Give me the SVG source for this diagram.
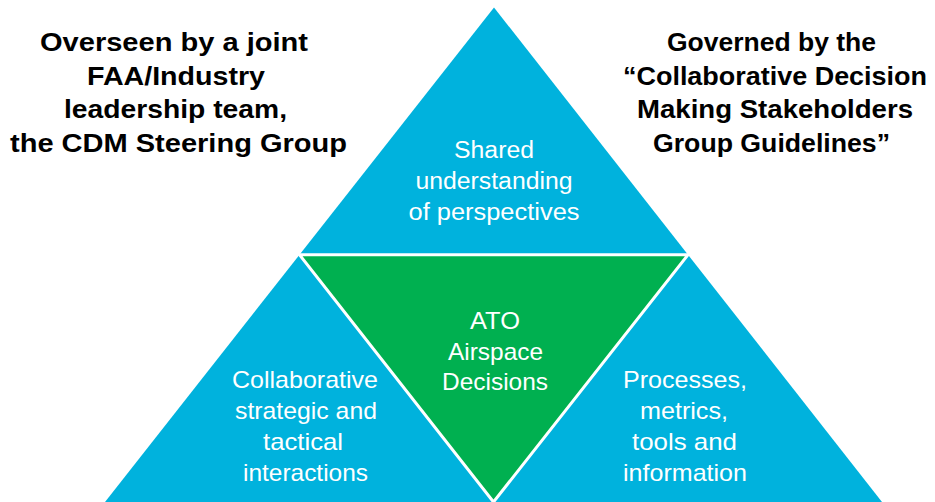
<svg xmlns="http://www.w3.org/2000/svg" width="935" height="502" viewBox="0 0 935 502">
<style>
.blue{fill:#00B2DD;}
.green{fill:#00B050;stroke:#FFFFFF;stroke-width:3;stroke-linejoin:miter;}
.hd{font-family:"Liberation Sans",Arial,sans-serif;font-weight:bold;font-size:25px;fill:#000000;text-anchor:middle;}
.wt{font-family:"Liberation Sans",Arial,sans-serif;font-size:24px;fill:#FFFFFF;text-anchor:middle;}
.wt2{font-family:"Liberation Sans",Arial,sans-serif;font-size:23px;fill:#FFFFFF;text-anchor:middle;}
</style>
<rect width="935" height="502" fill="#FFFFFF"/>
<g id="node-top">
<polygon class="blue" points="494,7.5 299.5,254.75 688,254.75"/>
<text class="wt2" x="494" y="158" textLength="80" lengthAdjust="spacingAndGlyphs">Shared</text>
<text class="wt2" x="494" y="189" textLength="157" lengthAdjust="spacingAndGlyphs">understanding</text>
<text class="wt2" x="494" y="220" textLength="171" lengthAdjust="spacingAndGlyphs">of perspectives</text>
</g>
<g id="node-left">
<polygon class="blue" points="299.5,254.75 105,502 493.5,502"/>
<text class="wt" x="305" y="388" textLength="146" lengthAdjust="spacingAndGlyphs">Collaborative</text>
<text class="wt" x="306" y="419" textLength="142" lengthAdjust="spacingAndGlyphs">strategic and</text>
<text class="wt" x="303" y="450" textLength="80" lengthAdjust="spacingAndGlyphs">tactical</text>
<text class="wt" x="305.5" y="481" textLength="125" lengthAdjust="spacingAndGlyphs">interactions</text>
</g>
<g id="node-right">
<polygon class="blue" points="688,254.75 493.5,502 882,502"/>
<text class="wt" x="685" y="388" textLength="124" lengthAdjust="spacingAndGlyphs">Processes,</text>
<text class="wt" x="684" y="419" textLength="88" lengthAdjust="spacingAndGlyphs">metrics,</text>
<text class="wt" x="684.5" y="450" textLength="105" lengthAdjust="spacingAndGlyphs">tools and</text>
<text class="wt" x="685" y="481" textLength="124" lengthAdjust="spacingAndGlyphs">information</text>
</g>
<g id="node-center">
<polygon class="green" points="299.5,254.75 688,254.75 493.5,502"/>
<text class="wt" x="495" y="329" textLength="50" lengthAdjust="spacingAndGlyphs">ATO</text>
<text class="wt" x="495.5" y="360" textLength="95" lengthAdjust="spacingAndGlyphs">Airspace</text>
<text class="wt" x="495" y="390" textLength="106" lengthAdjust="spacingAndGlyphs">Decisions</text>
</g>
<g id="label-left">
<text class="hd" x="174" y="51" textLength="268" lengthAdjust="spacingAndGlyphs">Overseen by a joint</text>
<text class="hd" x="176" y="84.5" textLength="178" lengthAdjust="spacingAndGlyphs">FAA/Industry</text>
<text class="hd" x="175.5" y="118" textLength="223" lengthAdjust="spacingAndGlyphs">leadership team,</text>
<text class="hd" x="178.5" y="151.5" textLength="337" lengthAdjust="spacingAndGlyphs">the CDM Steering Group</text>
</g>
<g id="label-right">
<text class="hd" x="771.5" y="51" textLength="209" lengthAdjust="spacingAndGlyphs">Governed by the</text>
<text class="hd" x="775" y="84.5" textLength="304" lengthAdjust="spacingAndGlyphs">“Collaborative Decision</text>
<text class="hd" x="775" y="118" textLength="276" lengthAdjust="spacingAndGlyphs">Making Stakeholders</text>
<text class="hd" x="771.5" y="151.5" textLength="237" lengthAdjust="spacingAndGlyphs">Group Guidelines”</text>
</g>
</svg>
